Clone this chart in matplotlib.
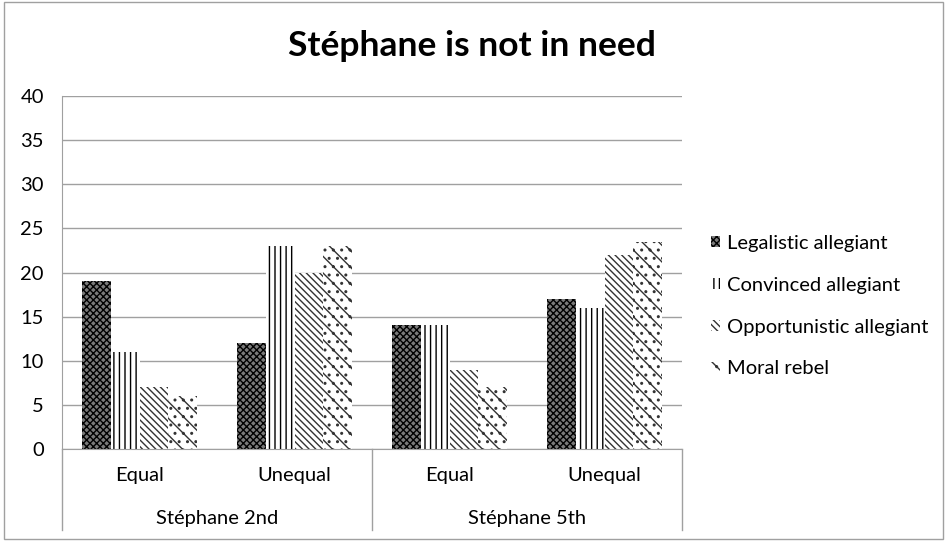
import matplotlib.pyplot as plt
import matplotlib.patches as patches
import numpy as np

plt.rcParams['font.family'] = ['Lato', 'DejaVu Sans']
plt.rcParams['hatch.linewidth'] = 1.0

# Data
groups = ['Stéphane 2nd', 'Stéphane 5th']
conditions = ['Equal', 'Unequal']
series = ['Legalistic allegiant', 'Convinced allegiant',
          'Opportunistic allegiant', 'Moral rebel']
legalistic = [19, 12, 14, 17]
convinced = [11, 23, 14, 16]
opportunistic = [7, 20, 9, 22]
moral_rebel = [6, 23, 7, 23.5]
values = [legalistic, convinced, opportunistic, moral_rebel]

styles = [
    dict(facecolor='#7a7a7a', edgecolor='black', hatch='xxxxx'),
    dict(facecolor='white', edgecolor='black', hatch='|||'),
    dict(facecolor='white', edgecolor='#333333', hatch='\\\\\\\\\\'),
    dict(facecolor='white', edgecolor='#333333', hatch='\\\\..'),
]

fig = plt.figure(figsize=(9.47, 5.41), dpi=100, facecolor='white')
ax = fig.add_axes([0.0655, 0.170, 0.6547, 0.6525])

x = np.arange(4)
w = 0.185
for i, (vals, st) in enumerate(zip(values, styles)):
    ax.bar(x + (i - 1.5) * w, vals, width=w, linewidth=0, label=series[i], **st)

ax.set_xlim(-0.5, 3.5)
ax.set_ylim(0, 40)
ax.set_yticks(range(0, 41, 5))
ax.yaxis.grid(True, color='#a0a0a0', linewidth=1)
ax.set_axisbelow(True)
ax.tick_params(axis='y', length=0, pad=13, labelsize=14.5)
ax.tick_params(axis='x', length=0, pad=13, labelsize=14.5)
ax.set_xticks(x)
ax.set_xticklabels(conditions * 2)

for s in ['top', 'right']:
    ax.spines[s].set_visible(False)
for s in ['left', 'bottom']:
    ax.spines[s].set_color('#a0a0a0')

# two-level category axis: separators and group labels
trans = ax.get_xaxis_transform()
for xs in [-0.5, 1.5, 3.5]:
    ax.plot([xs, xs], [0, -0.23], color='#a0a0a0', linewidth=1,
            transform=trans, clip_on=False)
for gi, g in enumerate(groups):
    ax.text(gi * 2 + 0.5, -0.198, g, transform=trans, ha='center',
            va='center', fontsize=14.5)

fig.text(0.498, 0.915, 'Stéphane is not in need', ha='center', va='center',
         fontsize=25.5, fontweight='bold')

ax.legend(loc='upper left', bbox_to_anchor=(0.732, 0.599),
          bbox_transform=fig.transFigure, frameon=False, fontsize=14.5,
          handlelength=0.45, handleheight=0.45, handletextpad=0.35,
          labelspacing=1.23)

fig.add_artist(patches.Rectangle((0.004, 0.004), 0.992, 0.992, fill=False,
                                 edgecolor='#a0a0a0', linewidth=1,
                                 transform=fig.transFigure))

fig.savefig('out.png', dpi=100)
